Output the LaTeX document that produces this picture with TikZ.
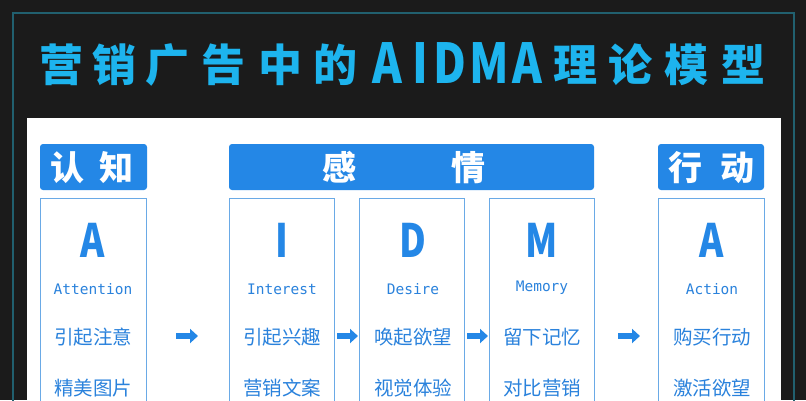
\documentclass[tikz,border=0pt]{standalone}
\usepackage{fontspec}
\newfontfamily\cjk{Noto Sans CJK SC}
\newfontfamily\mono{DejaVu Sans Mono}
\usetikzlibrary{arrows.meta}
\definecolor{bgc}{HTML}{1B1B1B}
\definecolor{framec}{HTML}{21606F}
\definecolor{titlec}{HTML}{1DB4EE}
\definecolor{headc}{HTML}{2487E6}
\definecolor{boxc}{HTML}{6AAAE6}
\definecolor{txtc}{HTML}{2A82DC}
\tikzset{
  titlechar/.style={text=titlec, font=\cjk\bfseries\fontsize{44}{44}\selectfont, inner sep=0pt, anchor=base},
  titlelat/.style={text=titlec, font=\cjk\bfseries\fontsize{55}{55}\selectfont, inner sep=0pt, anchor=base},
  headbox/.style={fill=headc, rounded corners=3pt, inner sep=0pt},
  headtxt/.style={text=white, font=\cjk\bfseries\fontsize{34}{34}\selectfont, inner sep=0pt, anchor=base},
  stagebox/.style={draw=boxc, line width=1pt, fill=white},
  bigletter/.style={text=headc, font=\cjk\bfseries\fontsize{46}{46}\selectfont, inner sep=0pt, anchor=base},
  engword/.style={text=txtc, font=\mono\fontsize{14.5}{14.5}\selectfont, inner sep=0pt, anchor=base},
  cnline/.style={text=txtc, font=\cjk\fontsize{19.5}{19.5}\selectfont, inner sep=0pt, anchor=base},
  barrow/.style={draw=headc, line width=6pt, -{Triangle[length=8pt,width=14pt]}}
}
\begin{document}
\begin{tikzpicture}[x=1pt,y=-1pt]
\fill[bgc] (0,0) rectangle (806,400);
\useasboundingbox (0,0) rectangle (806,400);
\draw[framec, line width=1.5pt] (13,13) rectangle (794,430);
\fill[white] (27,118) rectangle (781,430);
% title
\foreach \x/\c in {61/营,114/销,167/广,223/告,280/中,335/的,575/理,630/论,686/模,743/型}
  \node[titlechar] (tc\x) at (\x,81) {\c};
\foreach \x/\c in {387/A,420/I,450/D,489/M,527/A}
  \node[titlelat] (tl\x) at (\x,83) {\scalebox{0.82}[1]{\c}};
% headers
\path[headbox] (40,144) rectangle (147,190);
\node[headtxt] (h1a) at (67,180) {认};
\node[headtxt] (h1b) at (116,180) {知};
\path[headbox] (229,144) rectangle (594,190);
\node[headtxt] (h2a) at (339,180) {感};
\node[headtxt] (h2b) at (468,180) {情};
\path[headbox] (658,144) rectangle (764,190);
\node[headtxt] (h3a) at (685,180) {行};
\node[headtxt] (h3b) at (737,180) {动};
% stage boxes
\foreach \n/\l/\r in {bA/40/146,bI/229/334,bD/359/464,bM/489/594,bT/658/764}
  \draw[stagebox] (\l,198) rectangle (\r,430);
% big letters
\node[bigletter] (LA) at (93,257) {\scalebox{0.8}[1]{A}};
\node[bigletter] (LI) at (282,257) {\scalebox{0.8}[1]{I}};
\node[bigletter] (LD) at (413,257) {\scalebox{0.8}[1]{D}};
\node[bigletter] (LM) at (542,257) {\scalebox{0.8}[1]{M}};
\node[bigletter] (LT) at (712,257) {\scalebox{0.8}[1]{A}};
% contents
\foreach \n/\x/\en/\eb/\s/\t in {
  A/93/Attention/294/引起注意/精美图片,
  I/282/Interest/294/引起兴趣/营销文案,
  D/413/Desire/294/唤起欲望/视觉体验,
  M/542/Memory/291/留下记忆/对比营销,
  T/712/Action/294/购买行动/激活欲望}{
  \node[engword] (E\n) at (\x,\eb) {\en};
  \node[cnline] (C\n) at (\x,344.5) {\s};
  \node[cnline] (D\n) at (\x,395.5) {\t};
}
% arrows
\coordinate (a1s) at (176,336); \coordinate (a1e) at (198,336);
\coordinate (a2s) at (337,336); \coordinate (a2e) at (358,336);
\coordinate (a3s) at (467,336); \coordinate (a3e) at (488,336);
\coordinate (a4s) at (618,336); \coordinate (a4e) at (640,336);
\draw[barrow] (a1s) -- (a1e);
\draw[barrow] (a2s) -- (a2e);
\draw[barrow] (a3s) -- (a3e);
\draw[barrow] (a4s) -- (a4e);
\end{tikzpicture}
\end{document}
